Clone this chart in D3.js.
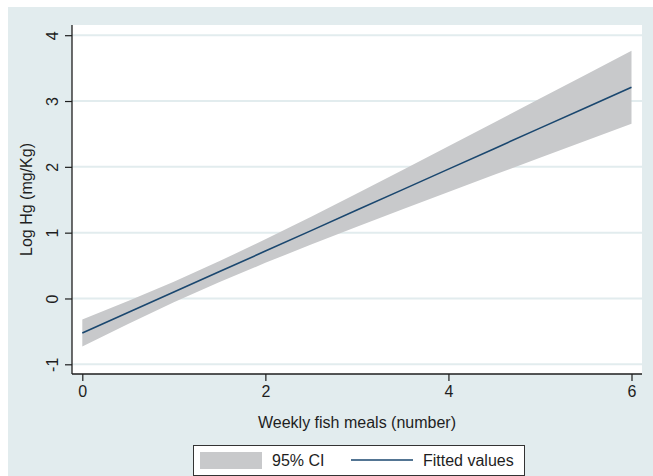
<!DOCTYPE html>
<html>
<head>
<meta charset="utf-8">
<script src="https://cdn.jsdelivr.net/npm/d3@7"></script>
<style>
  html, body { margin: 0; padding: 0; background: #ffffff; }
  svg { display: block; }
  text { font-family: "Liberation Sans", Arial, Helvetica, sans-serif; fill: #1e1e1e; }
</style>
</head>
<body>
<svg id="chart" width="653" height="476"></svg>
<script>
// ---- Data ----
const xValues   = [0, 0.5, 1, 1.5, 2, 2.5, 3, 3.5, 4, 4.5, 5, 5.5, 6];
const fitted    = [-0.525, -0.214, 0.098, 0.409, 0.720, 1.031, 1.343, 1.654, 1.965, 2.276, 2.588, 2.899, 3.210];
const ciLower   = [-0.730, -0.388, -0.059, 0.250, 0.541, 0.819, 1.090, 1.355, 1.618, 1.878, 2.139, 2.397, 2.655];
const ciUpper   = [-0.320, -0.040, 0.255, 0.568, 0.899, 1.243, 1.596, 1.953, 2.312, 2.674, 3.037, 3.401, 3.765];
const xTicks    = [0, 2, 4, 6];
const yTicks    = [-1, 0, 1, 2, 3, 4];
const xTitle    = "Weekly fish meals (number)";
const yTitle    = "Log Hg (mg/Kg)";
const legendLabels = ["95% CI", "Fitted values"];

// ---- Styles ----
const bgColor   = "#e2ecee";
const gridColor = "#e2ecee";
const bandColor = "#c8c9cb";
const lineColor = "#1a476f";
const axisColor = "#1e1e1e";

const svg = d3.select("#chart");

// outer graph region
svg.append("rect").attr("x", 0).attr("y", 0).attr("width", 653).attr("height", 476).attr("fill", "#ffffff");
svg.append("rect").attr("x", 8).attr("y", 7).attr("width", 645).attr("height", 469).attr("fill", bgColor);

const plot = { left: 72, right: 642, top: 25, bottom: 374 };

// plot region
svg.append("rect")
  .attr("x", plot.left).attr("y", plot.top)
  .attr("width", plot.right - plot.left).attr("height", plot.bottom - plot.top)
  .attr("fill", "#ffffff");

const x = d3.scaleLinear().domain([0, 6]).range([82.3, 631.5]);
const y = d3.scaleLinear().domain([-1, 4]).range([364.3, 35.2]);

// gridlines
svg.append("g").selectAll("line").data(yTicks).join("line")
  .attr("x1", plot.left).attr("x2", plot.right)
  .attr("y1", d => y(d)).attr("y2", d => y(d))
  .attr("stroke", gridColor).attr("stroke-width", 2);

const pts = xValues.map((v, i) => ({ x: v, lo: ciLower[i], hi: ciUpper[i], f: fitted[i] }));

// CI band
svg.append("path")
  .datum(pts)
  .attr("d", d3.area().x(d => x(d.x)).y0(d => y(d.lo)).y1(d => y(d.hi)))
  .attr("fill", bandColor);

// fitted line
svg.append("path")
  .datum(pts)
  .attr("d", d3.line().x(d => x(d.x)).y(d => y(d.f)))
  .attr("fill", "none")
  .attr("stroke", lineColor)
  .attr("stroke-width", 1.6);

const fmt = d => String(d);

// y axis
const yAxis = svg.append("g").attr("transform", `translate(${plot.left},0)`)
  .call(d3.axisLeft(y).tickValues(yTicks).tickSize(7).tickPadding(0).tickFormat(fmt));
yAxis.select(".domain").remove();
yAxis.selectAll(".tick line").attr("stroke", axisColor).attr("stroke-width", 1.2);
yAxis.selectAll(".tick text")
  .attr("x", 0).attr("y", 0).attr("dy", null)
  .attr("text-anchor", "middle")
  .attr("transform", "translate(-14,0) rotate(-90)")
  .style("font-size", "16px")
  .style("font-family", "'Liberation Sans', Arial, sans-serif")
  .attr("fill", "#1e1e1e");
svg.append("line")
  .attr("x1", plot.left).attr("x2", plot.left)
  .attr("y1", plot.top).attr("y2", plot.bottom)
  .attr("stroke", axisColor).attr("stroke-width", 1.3);

// x axis
const xAxis = svg.append("g").attr("transform", `translate(0,${plot.bottom})`)
  .call(d3.axisBottom(x).tickValues(xTicks).tickSize(7).tickPadding(5).tickFormat(fmt));
xAxis.select(".domain").remove();
xAxis.selectAll(".tick line").attr("stroke", axisColor).attr("stroke-width", 1.2);
xAxis.selectAll(".tick text")
  .style("font-size", "16px")
  .style("font-family", "'Liberation Sans', Arial, sans-serif")
  .attr("fill", "#1e1e1e");
svg.append("line")
  .attr("x1", plot.left).attr("x2", plot.right)
  .attr("y1", plot.bottom).attr("y2", plot.bottom)
  .attr("stroke", axisColor).attr("stroke-width", 1.3);

// axis titles
svg.append("text")
  .attr("x", (plot.left + plot.right) / 2).attr("y", 428)
  .attr("text-anchor", "middle").style("font-size", "16px")
  .text(xTitle);
svg.append("text")
  .attr("transform", `translate(32,${(plot.top + plot.bottom) / 2}) rotate(-90)`)
  .attr("text-anchor", "middle").style("font-size", "16px")
  .text(yTitle);

// legend
const lg = svg.append("g");
lg.append("rect").attr("x", 193.5).attr("y", 445.5).attr("width", 331).attr("height", 30)
  .attr("fill", "#ffffff").attr("stroke", "#333333").attr("stroke-width", 1);
lg.append("rect").attr("x", 200).attr("y", 452).attr("width", 62).attr("height", 17).attr("fill", bandColor);
lg.append("text").attr("x", 272).attr("y", 466).style("font-size", "16px").text(legendLabels[0]);
lg.append("line").attr("x1", 351).attr("x2", 413).attr("y1", 460).attr("y2", 460)
  .attr("stroke", lineColor).attr("stroke-width", 1.6);
lg.append("text").attr("x", 423).attr("y", 466).style("font-size", "16px").text(legendLabels[1]);
</script>
</body>
</html>
